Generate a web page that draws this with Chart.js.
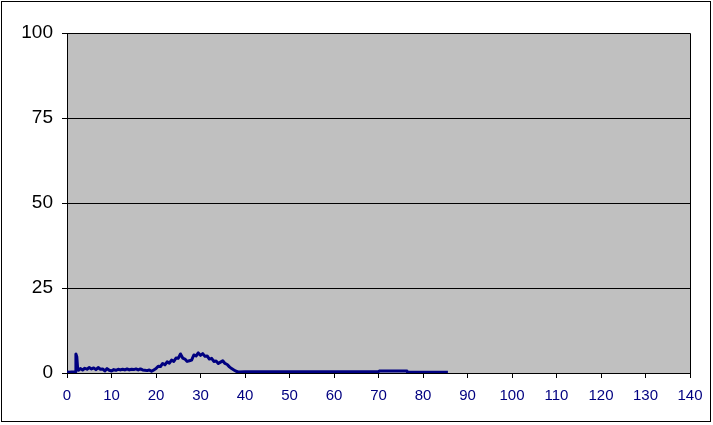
<!DOCTYPE html>
<html>
<head>
<meta charset="utf-8">
<script src="https://cdn.jsdelivr.net/npm/chart.js@4"></script>
<style>
  body { margin: 0; background: #fff; }
  canvas { display: block; }
</style>
</head>
<body>
<canvas id="chart" width="713" height="425"></canvas>
<script>
// data
const xValues = [
  0, 0.5, 1, 1.5, 1.8, 2.0, 2.2, 2.4, 2.6, 3, 3.5, 4, 4.5, 5, 5.5, 6, 6.5, 7, 7.5, 8, 8.5, 9, 9.5,
  10, 10.5, 11, 11.5, 12, 12.5, 13, 13.5, 14, 14.5, 15, 15.5, 16, 16.5, 17, 17.5, 18, 18.5, 19, 19.5,
  20, 20.5, 21, 21.5, 22, 22.5, 23, 23.5, 24, 24.5, 25, 25.5, 26, 26.5, 27, 27.5, 28, 28.5, 29, 29.5,
  30, 30.5, 31, 31.5, 32, 32.5, 33, 33.5, 34, 34.5, 35, 35.5, 36, 36.5, 37, 37.5, 38, 38.5,
  40, 50, 60, 70, 70.3, 76.4, 76.5, 85.6
];
const yValues = [
  0.3, 0.2, 0.3, 0.3, 0.4, 5.6, 4.8, 1.2, 0.8, 1.3, 0.9, 1.4, 1.1, 1.6, 1.2, 1.5, 1.0, 1.6, 1.1, 1.2, 0.6, 1.3, 0.8,
  0.6, 1.0, 0.8, 1.1, 0.9, 1.1, 0.9, 1.2, 0.9, 1.1, 1.0, 1.2, 0.9, 1.2, 0.9, 0.8, 0.7, 0.9, 0.5, 0.9,
  1.3, 2.0, 1.9, 2.8, 2.4, 3.3, 2.9, 3.8, 3.4, 4.4, 4.3, 5.6, 4.4, 4.1, 3.4, 3.6, 3.8, 5.3, 5.0, 5.9,
  5.2, 5.7, 4.9, 5.0, 4.1, 4.3, 3.4, 3.5, 2.8, 3.2, 3.6, 2.8, 2.5, 1.8, 1.3, 0.9, 0.5, 0.3,
  0.4, 0.4, 0.4, 0.4, 0.6, 0.6, 0.25, 0.25
];
const xTicks = [0, 10, 20, 30, 40, 50, 60, 70, 80, 90, 100, 110, 120, 130, 140];
const yTicks = [0, 25, 50, 75, 100];

const points = xValues.map((x, i) => ({ x: x, y: yValues[i] }));

// grey plot area, frame around it and round the whole chart
const frame = {
  id: "frame",
  beforeDraw(chart) {
    const { ctx, chartArea: a } = chart;
    ctx.save();
    ctx.fillStyle = "#c0c0c0";
    ctx.fillRect(a.left, a.top, a.right - a.left, a.bottom - a.top);
    ctx.restore();
  },
  afterDraw(chart) {
    const { ctx, chartArea: a } = chart;
    ctx.save();
    ctx.strokeStyle = "#000";
    ctx.lineWidth = 1;
    ctx.beginPath();
    ctx.moveTo(Math.round(a.left) + 0.5, Math.round(a.top) + 0.5);
    ctx.lineTo(Math.round(a.right) + 0.5, Math.round(a.top) + 0.5);
    ctx.lineTo(Math.round(a.right) + 0.5, Math.round(a.bottom) + 0.5);
    ctx.stroke();
    ctx.strokeRect(1.5, 1.5, 709, 420);
    ctx.restore();
  },
};

const ctx = document.getElementById("chart").getContext("2d");
new Chart(ctx, {
  type: "line",
  data: {
    datasets: [
      {
        data: points,
        borderColor: "#000080",
        borderWidth: 3,
        borderJoinStyle: "round",
        borderCapStyle: "butt",
        pointRadius: 0,
        tension: 0,
        fill: false,
      },
    ],
  },
  options: {
    responsive: false,
    animation: false,
    devicePixelRatio: 1,
    layout: { padding: { left: 0, top: 33, right: 23, bottom: 0 } },
    plugins: {
      legend: { display: false },
      tooltip: { enabled: false },
    },
    scales: {
      x: {
        type: "linear",
        min: 0,
        max: 140,
        afterBuildTicks(s) {
          s.ticks = xTicks.map((v) => ({ value: v }));
        },
        ticks: {
          color: "#000080",
          font: { family: "'Liberation Sans', Arial", size: 15 },
          padding: 9,
          maxRotation: 0,
          autoSkip: false,
        },
        grid: { drawOnChartArea: false, tickLength: 5, tickColor: "#000" },
        border: { color: "#000" },
        afterFit(s) {
          s.height = 52;
        },
      },
      y: {
        min: 0,
        max: 100,
        afterBuildTicks(s) {
          s.ticks = yTicks.map((v) => ({ value: v }));
        },
        ticks: {
          color: "#000",
          font: { family: "'Liberation Sans', Arial", size: 19 },
          padding: 9,
        },
        grid: { color: "#000", tickLength: 5, tickColor: "#000" },
        border: { color: "#000" },
        afterFit(s) {
          s.width = 67;
        },
      },
    },
  },
  plugins: [frame],
});
</script>
</body>
</html>
